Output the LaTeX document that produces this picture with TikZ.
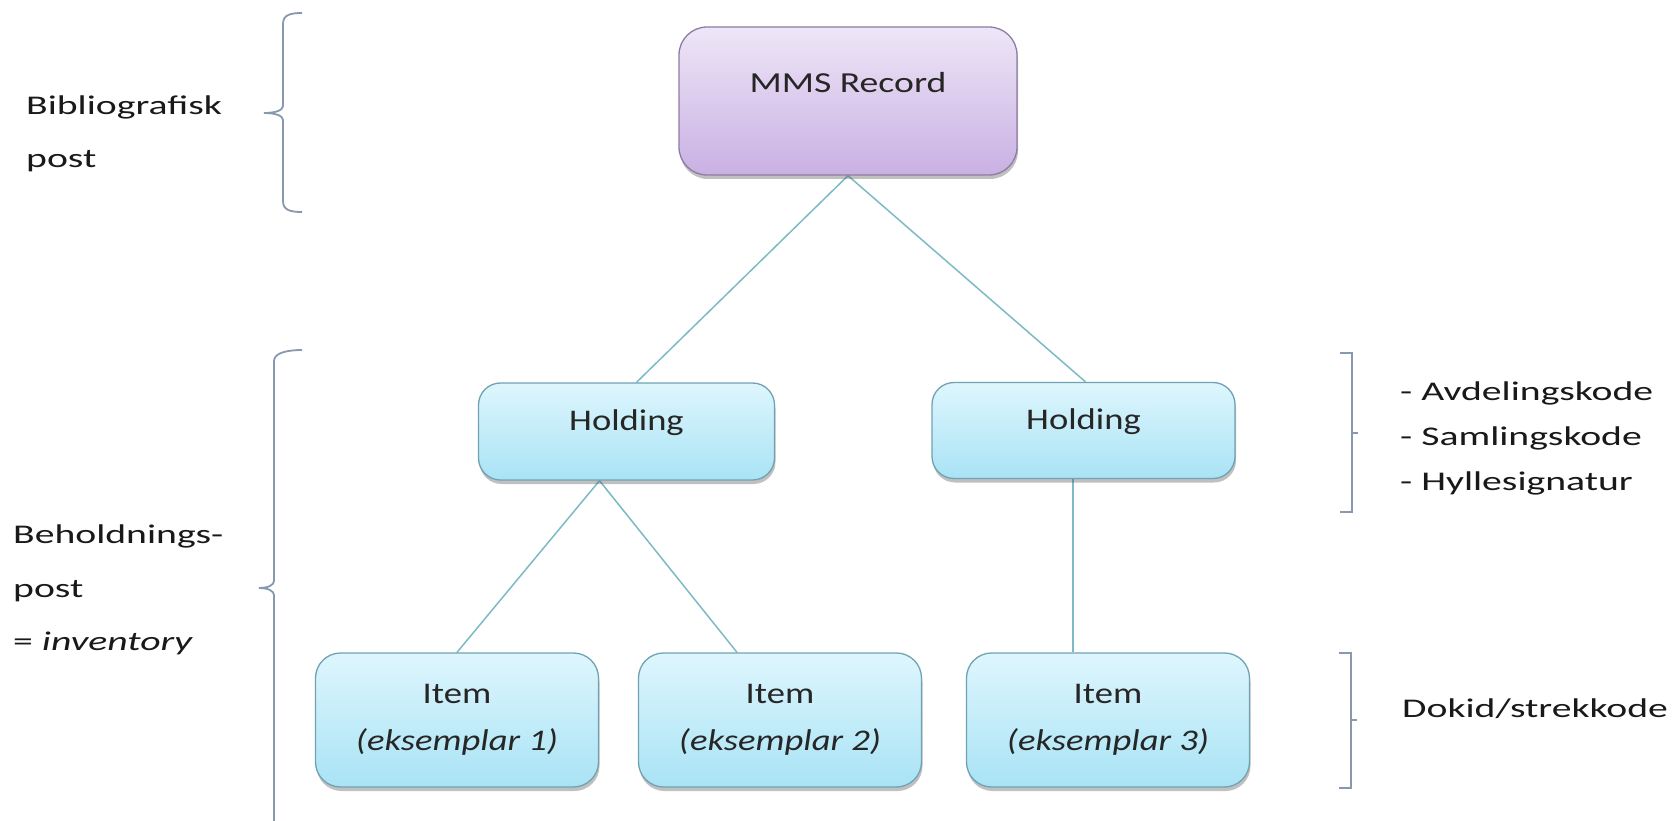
\documentclass[tikz,border=0pt]{standalone}
\usepackage{fontspec}
\setmainfont{Carlito}
\newfontfamily\sidefont{Carlito}[FakeStretch=1.47]
\newfontfamily\boxfont{Carlito}[FakeStretch=1.22]
\newfontfamily\mmsfont{Carlito}[FakeStretch=1.3]
\usetikzlibrary{shadows,calc,backgrounds}
\definecolor{bluetop}{HTML}{DEF6FD}
\definecolor{bluebot}{HTML}{A9E3F5}
\definecolor{blueborder}{HTML}{6FA3B2}
\definecolor{purtop}{HTML}{EEE6F7}
\definecolor{purbot}{HTML}{C9B0E3}
\definecolor{purborder}{HTML}{8C7DA3}
\definecolor{connc}{HTML}{7DBAC5}
\definecolor{brk}{HTML}{8798B0}
\definecolor{txt}{HTML}{262626}
\begin{document}
\begin{tikzpicture}[x=1pt,y=1pt,
  basebox/.style={draw, line width=1.3pt, inner sep=0pt, text=txt,
    font=\boxfont\fontsize{30}{36}\selectfont,
    drop shadow={shadow xshift=1pt, shadow yshift=-4pt, opacity=0.35, fill=black!70}},
  purplebox/.style={basebox, rounded corners=28pt, draw=purborder, top color=purtop, bottom color=purbot,
    font=\mmsfont\fontsize{29}{36}\selectfont},
  bluebox/.style={basebox, rounded corners=22pt, draw=blueborder, top color=bluetop, bottom color=bluebot},
  itembox/.style={bluebox, rounded corners=25pt, align=center, font=\boxfont\fontsize{30}{47}\selectfont,
    minimum width=283pt, minimum height=134pt, text height=66pt, text depth=6pt},
  conn/.style={draw=connc, line width=1.5pt},
  brace/.style={draw=brk, line width=1.8pt},
  side/.style={anchor=base west, inner sep=0pt, text=black!90, font=\sidefont\fontsize{27}{33}\selectfont}]
\useasboundingbox (0,0) rectangle (1675,-821);

% boxes
\node[purplebox, minimum width=338pt, minimum height=148pt, text height=20pt, text depth=36pt] (mms) at (848,-101) {MMS Record};
\node[bluebox, minimum width=296pt, minimum height=97pt, text height=20pt, text depth=23pt] (h1) at (626.5,-431.5) {Holding};
\node[bluebox, minimum width=303pt, minimum height=96pt, text height=20pt, text depth=23pt] (h2) at (1083.5,-430.5) {Holding};
\node[itembox] (i1) at (457,-720) {Item\\\textit{(eksemplar 1)}};
\node[itembox] (i2) at (780,-720) {Item\\\textit{(eksemplar 2)}};
\node[itembox] (i3) at (1108,-720) {Item\\\textit{(eksemplar 3)}};

% connectors
\begin{scope}[on background layer]
\fill[white] (0,0) rectangle (1675,-821);
\draw[conn] (mms.south) -- ([xshift=10pt]h1.north);
\draw[conn] (mms.south) -- ([xshift=2pt]h2.north);
\draw[conn] ([xshift=-27pt]h1.south) -- (i1.north);
\draw[conn] ([xshift=-27pt]h1.south) -- ([xshift=-43pt]i2.north);
\draw[conn] ([xshift=-10.5pt]h2.south) -- ([xshift=-35pt]i3.north);
\end{scope}

% left braces
\draw[brace] (302,-13) .. controls (290,-13) and (283,-15) .. (283,-24) -- (283,-106)
  .. controls (283,-110) and (276,-113) .. (264,-113)
  .. controls (276,-113) and (283,-116) .. (283,-120) -- (283,-201)
  .. controls (283,-210) and (290,-212) .. (302,-212);
\draw[brace] (302,-350) .. controls (290,-350) and (274,-352) .. (274,-361) -- (274,-581)
  .. controls (274,-585) and (268,-588) .. (259,-588)
  .. controls (268,-588) and (274,-591) .. (274,-595) -- (274,-821);

% right brackets
\draw[brace] (1340,-353) -- (1352,-353) -- (1352,-512) -- (1340,-512);
\draw[brace] (1352,-433) -- (1358,-433);
\draw[brace] (1339,-653) -- (1351,-653) -- (1351,-788) -- (1339,-788);
\draw[brace] (1351,-720) -- (1357,-720);

% side texts
\node[side] (bib1) at (26,-115) {Bibliografisk};
\node[side] (bib2) at (26,-168) {post};
\node[side] (beh1) at (13,-543) {Beholdnings-};
\node[side] (beh2) at (13,-597) {post};
\node[side] (beh3) at (13,-650) {= \textit{inventory}};
\node[side] (r1) at (1400,-400) {- Avdelingskode};
\node[side] (r2) at (1400,-445) {- Samlingskode};
\node[side] (r3) at (1400,-490) {- Hyllesignatur};
\node[side] (r4) at (1402,-717) {Dokid/strekkode};
\end{tikzpicture}
\end{document}
